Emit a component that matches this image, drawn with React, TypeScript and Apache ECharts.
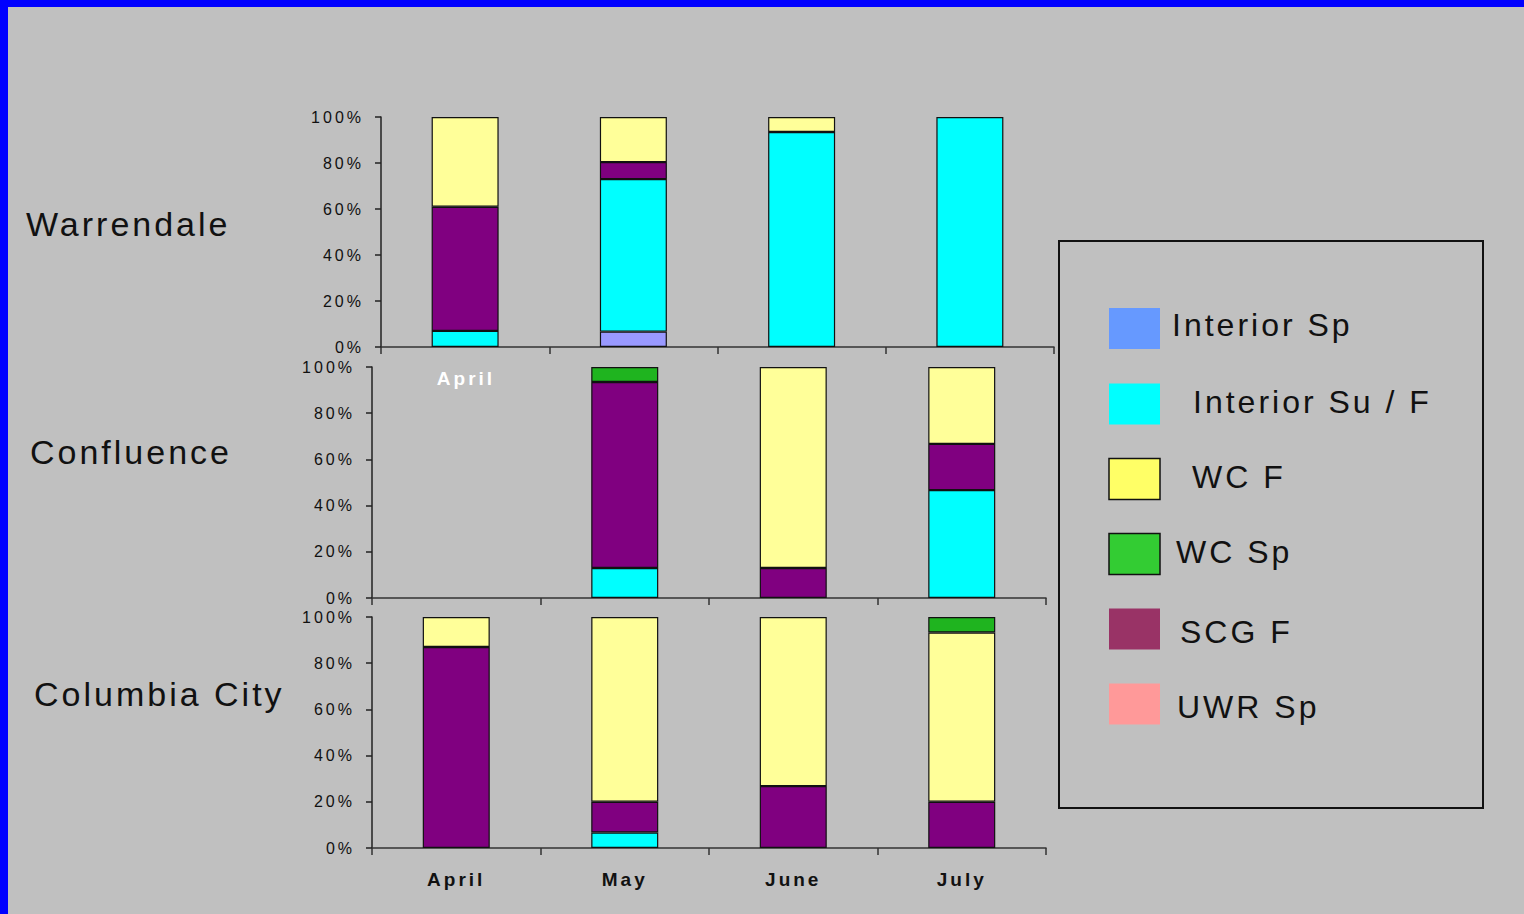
import React, { useEffect, useRef } from "react";
import * as echarts from "echarts";

const months = ["April", "May", "June", "July"];
const siteNames = ["Warrendale", "Confluence", "Columbia City"];
const legendNames = ["Interior Sp", "Interior Su / F", "WC F", "WC Sp", "SCG F", "UWR Sp"];

// stacked order bottom -> top
const seriesKeys = ["Interior Sp", "Interior Su / F", "SCG F", "WC F", "WC Sp", "UWR Sp"];

// Warrendale (%)
const warInteriorSp = [null, 6.7, null, null];
const warInteriorSuF = [7, 66.3, 93.5, 100];
const warScgF = [54, 7.4, null, null];
const warWcF = [39, 19.6, 6.5, null];
const warWcSp = [null, null, null, null];
const warUwrSp = [null, null, null, null];

// Confluence (%)
const conInteriorSp = [null, null, null, null];
const conInteriorSuF = [null, 13, null, 46.7];
const conScgF = [null, 80.5, 13, 20];
const conWcF = [null, null, 87, 33.3];
const conWcSp = [null, 6.5, null, null];
const conUwrSp = [null, null, null, null];

// Columbia City (%)
const colInteriorSp = [null, null, null, null];
const colInteriorSuF = [null, 6.7, null, null];
const colScgF = [87, 13.3, 26.8, 20];
const colWcF = [13, 80, 73.2, 73.3];
const colWcSp = [null, null, null, 6.7];
const colUwrSp = [null, null, null, null];

const siteData = [
  [warInteriorSp, warInteriorSuF, warScgF, warWcF, warWcSp, warUwrSp],
  [conInteriorSp, conInteriorSuF, conScgF, conWcF, conWcSp, conUwrSp],
  [colInteriorSp, colInteriorSuF, colScgF, colWcF, colWcSp, colUwrSp],
];

const barColors: Record<string, string> = {
  "Interior Sp": "#9999FF",
  "Interior Su / F": "#00FFFF",
  "SCG F": "#800080",
  "WC F": "#FFFF99",
  "WC Sp": "#1FB41F",
  "UWR Sp": "#FF9999",
};

const legendColors: Record<string, string> = {
  "Interior Sp": "#6699FF",
  "Interior Su / F": "#00FFFF",
  "WC F": "#FFFF66",
  "WC Sp": "#33CC33",
  "SCG F": "#993366",
  "UWR Sp": "#FF9999",
};

const FONT = "'Liberation Sans', Arial, sans-serif";

export default function App() {
  const ref = useRef<HTMLDivElement>(null);

  useEffect(() => {
    if (!ref.current) return;
    const chart = echarts.init(ref.current, undefined, { renderer: "svg" });

    const grids = [
      { left: 381, top: 117, width: 673, height: 230 },
      { left: 372, top: 367, width: 674, height: 231 },
      { left: 372, top: 617, width: 674, height: 231 },
    ];

    const xAxes = grids.map((_, i) => ({
      type: "category",
      gridIndex: i,
      data: months,
      boundaryGap: true,
      axisLine: { show: true, lineStyle: { color: "#333", width: 1.5 } },
      axisTick: { show: true, length: 7, interval: 0, lineStyle: { color: "#333", width: 1.5 } },
      axisLabel: {
        show: i === 2,
        interval: 0,
        margin: 22,
        fontFamily: FONT,
        fontSize: 19,
        fontWeight: "bold",
        color: "#111",
      },
      splitLine: { show: false },
    }));

    const yAxes = grids.map((_, i) => ({
      type: "value",
      gridIndex: i,
      min: 0,
      max: 100,
      interval: 20,
      axisLine: { show: true, lineStyle: { color: "#222", width: 1.5 } },
      axisTick: { show: true, length: 6, lineStyle: { color: "#222", width: 1.5 } },
      axisLabel: {
        formatter: "{value}%",
        margin: 17,
        fontFamily: FONT,
        fontSize: 16,
        color: "#111",
      },
      splitLine: { show: false },
    }));

    const series: any[] = [];
    siteData.forEach((arrs, gi) => {
      seriesKeys.forEach((key, si) => {
        series.push({
          type: "bar",
          name: key,
          xAxisIndex: gi,
          yAxisIndex: gi,
          stack: "site" + gi,
          barWidth: 67,
          data: arrs[si],
          itemStyle: { color: barColors[key], borderColor: "#111", borderWidth: 1.2 },
          emphasis: { disabled: true },
        });
      });
    });

    const rowLabelPos = [
      { x: 26, y: 224 },
      { x: 30, y: 452 },
      { x: 34, y: 694 },
    ];

    const legendY = [328.5, 404, 479, 554, 629, 704];
    const legendTextX = [1172, 1193, 1192, 1176, 1180, 1177];
    const legendTextY = [325, 401.5, 476.5, 551.5, 631.5, 707];

    const graphics: any[] = [
      { type: "rect", shape: { x: 0, y: 0, width: 1524, height: 7 }, style: { fill: "#0000FF" }, z: 10 },
      { type: "rect", shape: { x: 0, y: 0, width: 8, height: 914 }, style: { fill: "#0000FF" }, z: 10 },
      {
        type: "rect",
        shape: { x: 1059, y: 241, width: 424, height: 567 },
        style: { fill: "none", stroke: "#111", lineWidth: 2 },
      },
      {
        type: "text",
        x: 466,
        y: 378,
        style: {
          text: "April",
          fill: "#FFFFFF",
          font: `bold 19px ${FONT}`,
          textAlign: "center",
          textVerticalAlign: "middle",
        },
      },
    ];

    siteNames.forEach((name, i) => {
      graphics.push({
        type: "text",
        x: rowLabelPos[i].x,
        y: rowLabelPos[i].y,
        style: {
          text: name,
          fill: "#111",
          font: `34px ${FONT}`,
          textAlign: "left",
          textVerticalAlign: "middle",
        },
      });
    });

    legendNames.forEach((name, i) => {
      const bordered = name === "WC F" || name === "WC Sp";
      graphics.push({
        type: "rect",
        shape: { x: 1109, y: legendY[i] - 20.5, width: 51, height: 41 },
        style: {
          fill: legendColors[name],
          stroke: bordered ? "#111" : "none",
          lineWidth: bordered ? 1.5 : 0,
        },
      });
      graphics.push({
        type: "text",
        x: legendTextX[i],
        y: legendTextY[i],
        style: {
          text: name,
          fill: "#111",
          font: `32px ${FONT}`,
          textAlign: "left",
          textVerticalAlign: "middle",
        },
      });
    });

    chart.setOption({
      animation: false,
      backgroundColor: "#C0C0C0",
      grid: grids,
      xAxis: xAxes,
      yAxis: yAxes,
      series,
      graphic: graphics,
      tooltip: { show: false },
    });

    return () => chart.dispose();
  }, []);

  return (
    <div
      style={{
        position: "fixed",
        left: 0,
        top: 0,
        width: 1524,
        height: 914,
        letterSpacing: "3px",
        background: "#C0C0C0",
      }}
    >
      <div ref={ref} style={{ width: 1524, height: 914 }} />
    </div>
  );
}
